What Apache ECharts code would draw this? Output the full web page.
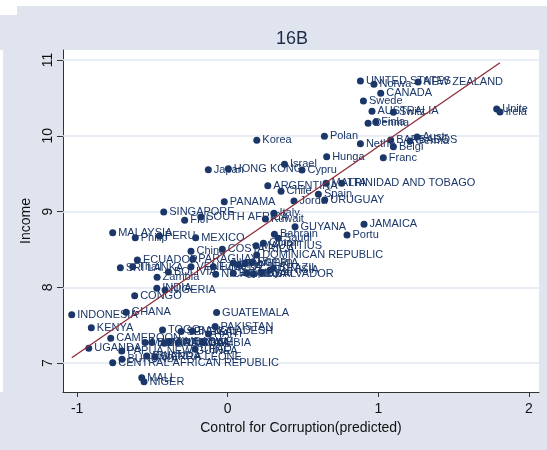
<!DOCTYPE html>
<html>
<head>
<meta charset="utf-8">
<script src="https://cdn.jsdelivr.net/npm/echarts@6/dist/echarts.min.js"></script>
<style>
  html, body { margin: 0; padding: 0; background: #ffffff; }
  #chart { width: 547px; height: 450px; }
</style>
</head>
<body>
<div id="chart"></div>
<script>
// Country labels, predicted control of corruption (x) and log income (y)
const countries = [
  'UNITED STATES', 'Norwa', 'NEW ZEALAND', 'CANADA', 'Swede', 'AUSTRALIA', 'Switz', 'Finla', 'Denma',
  'Unite', 'Irela', 'Polan', 'Nethe', 'BARBADOS', 'Belgi', 'Austr', 'Germa', 'Hunga', 'Franc',
  'Cypru', 'Israel', 'Korea', 'Japan', 'HONG KONG', 'ARGENTINA', 'Chile', 'MALTA', 'TRINIDAD AND TOBAGO',
  'Spain', 'Jorda', 'URUGUAY', 'PANAMA', 'Italy', 'Kuwait', 'SOUTH AFRICA', 'FIJI', 'SINGAPORE',
  'GUYANA', 'JAMAICA', 'Portu', 'MALAYSIA', 'Philip', 'PERU', 'MEXICO', 'China', 'COSTA RICA',
  'Bahrain', 'Saudi', 'MAURITIUS', 'Oman', 'DOMINICAN REPUBLIC', 'ECUADOR', 'SRI LANKA', 'Thail',
  'PARAGUAY', 'VENEZUELA', 'Turke', 'BOLIVIA', 'Zambia', 'NICARAGUA', 'Leban', 'Iran', 'ALGERIA',
  'Roman', 'TUNISIA', 'BRAZIL', 'Egypt', 'Moroc', 'EL SALVADOR', 'Syria', 'INDIA', 'NIGERIA',
  'CONGO', 'GHANA', 'INDONESIA', 'GUATEMALA', 'KENYA', 'TOGO', 'SENEGAL', 'BANGLADESH', 'HAITI',
  'PAKISTAN', 'CAMEROON', 'MADAGASCAR', 'BENIN', 'TANZANIA', 'ZIMBABWE', 'ANGOLA', 'GAMBIA', 'CHAD',
  'UGANDA', 'PAPUA NEW GUINEA', 'BURUNDI', 'RWANDA', 'SIERRA LEONE', 'CENTRAL AFRICAN REPUBLIC',
  'MALI', 'NIGER'
];
const control = [
  0.881, 0.971, 1.264, 1.016, 0.901, 0.958, 1.100, 0.983, 0.932,
  1.786, 1.808, 0.642, 0.881, 1.082, 1.100, 1.257, 1.210, 0.657, 1.033,
  0.493, 0.377, 0.193, -0.129, 0.004, 0.266, 0.354, 0.653, 0.757,
  0.602, 0.440, 0.644, -0.023, 0.307, 0.250, -0.179, -0.286, -0.425,
  0.447, 0.905, 0.792, -0.764, -0.614, -0.454, -0.213, -0.244, -0.036,
  0.310, 0.336, 0.188, 0.237, 0.192, -0.600, -0.713, -0.631,
  -0.232, -0.244, -0.096, -0.394, -0.469, -0.080, 0.037, 0.070, 0.115,
  0.159, 0.281, 0.303, 0.037, 0.126, 0.170, 0.226, -0.471, -0.416,
  -0.618, -0.675, -1.036, -0.074, -0.906, -0.433, -0.310, -0.234, -0.128,
  -0.084, -0.777, -0.549, -0.505, -0.421, -0.388, -0.328, -0.166, -0.217,
  -0.923, -0.704, -0.702, -0.538, -0.483, -0.764,
  -0.571, -0.556
];
const income = [
  10.723, 10.679, 10.710, 10.561, 10.459, 10.323, 10.310, 10.182, 10.165,
  10.354, 10.314, 9.993, 9.896, 9.945, 9.857, 9.984, 9.931, 9.725, 9.711,
  9.549, 9.625, 9.941, 9.553, 9.564, 9.342, 9.268, 9.373, 9.373,
  9.228, 9.140, 9.153, 9.131, 8.977, 8.902, 8.929, 8.885, 8.995,
  8.801, 8.832, 8.691, 8.722, 8.656, 8.678, 8.656, 8.476, 8.502,
  8.700, 8.648, 8.550, 8.582, 8.427, 8.361, 8.260, 8.273,
  8.370, 8.273, 8.272, 8.203, 8.133, 8.173, 8.322, 8.300, 8.322,
  8.330, 8.230, 8.252, 8.186, 8.186, 8.177, 8.195, 7.988, 7.966,
  7.891, 7.671, 7.640, 7.669, 7.468, 7.438, 7.418, 7.421, 7.385,
  7.484, 7.329, 7.273, 7.273, 7.264, 7.282, 7.273, 7.273, 7.183,
  7.197, 7.161, 7.051, 7.095, 7.086, 7.007,
  6.809, 6.756
];

// Linear fit: end points at the smallest and largest x
const fitX = [-1.036, 1.808];
const fitY = [7.073, 10.963];

// Axis ticks
const xTicks = [-1, 0, 1, 2];
const yTicks = [7, 8, 9, 10, 11];

const FONT = 'Liberation Sans, Arial, Helvetica, sans-serif';
const NAVY = '#1b3769';

const points = countries.map((n, i) => ({ name: n, value: [control[i], income[i]] }));
const fitLine = fitX.map((x, i) => [x, fitY[i]]);

const chart = echarts.init(document.getElementById('chart'), null, { renderer: 'canvas' });

chart.setOption({
  animation: false,
  backgroundColor: '#dfe4ef',
  graphic: [
    { type: 'rect', shape: { x: 0, y: 0, width: 547, height: 6 }, style: { fill: '#ffffff' }, silent: true },
    { type: 'rect', shape: { x: 0, y: 0, width: 17, height: 15 }, style: { fill: '#ffffff' }, silent: true },
    { type: 'rect', shape: { x: 0, y: 50, width: 3, height: 342 }, style: { fill: '#ffffff' }, silent: true }
  ],
  title: {
    text: '16B',
    left: 287,
    top: 25,
    textAlign: 'center',
    textStyle: { fontFamily: FONT, fontSize: 18, fontWeight: 'normal', color: '#1e2b47' }
  },
  grid: {
    left: 63, top: 50, right: 8, bottom: 58,
    show: true, backgroundColor: '#ffffff', borderWidth: 0
  },
  xAxis: {
    type: 'value',
    min: -1.094, max: 2.067,
    name: 'Control for Corruption(predicted)',
    nameLocation: 'middle',
    nameGap: 28,
    nameTextStyle: { fontFamily: FONT, fontSize: 14, color: '#111111' },
    axisLine: { show: true, onZero: false, lineStyle: { color: '#333333', width: 1 } },
    axisTick: { show: true, length: 5, customValues: xTicks, lineStyle: { color: '#333333' } },
    axisLabel: { customValues: xTicks, margin: 10, fontFamily: FONT, fontSize: 14, color: '#111111' },
    splitLine: { show: false }
  },
  yAxis: {
    type: 'value',
    min: 6.62, max: 11.132,
    name: 'Income',
    nameLocation: 'middle',
    nameGap: 23,
    nameRotate: 90,
    nameTextStyle: { fontFamily: FONT, fontSize: 14, color: '#111111' },
    axisLine: { show: true, onZero: false, lineStyle: { color: '#333333', width: 1 } },
    axisTick: { show: true, length: 6, customValues: yTicks, lineStyle: { color: '#333333' } },
    axisLabel: { customValues: yTicks, rotate: 90, margin: 8, fontFamily: FONT, fontSize: 14, color: '#111111' },
    splitLine: { show: false }
  },
  series: [
    {
      // horizontal grid lines at the y ticks, kept beneath the markers and labels
      type: 'line',
      data: [],
      silent: true,
      z: 1,
      markLine: {
        z: 1,
        silent: true,
        symbol: ['none', 'none'],
        label: { show: false },
        lineStyle: { color: '#e2e7f1', width: 1.5, type: 'solid' },
        data: yTicks.map(v => ({ yAxis: v }))
      }
    },
    {
      type: 'scatter',
      data: points,
      symbol: 'circle',
      symbolSize: 7,
      z: 3,
      itemStyle: { color: NAVY, opacity: 1 },
      label: {
        show: true,
        position: 'right',
        distance: 2,
        formatter: '{b}',
        fontFamily: FONT,
        fontSize: 11,
        color: NAVY
      },
      emphasis: { disabled: true }
    },
    {
      type: 'line',
      data: fitLine,
      symbol: 'none',
      z: 5,
      lineStyle: { color: '#8e2c38', width: 1.3 },
      emphasis: { disabled: true }
    }
  ]
});
</script>
</body>
</html>
